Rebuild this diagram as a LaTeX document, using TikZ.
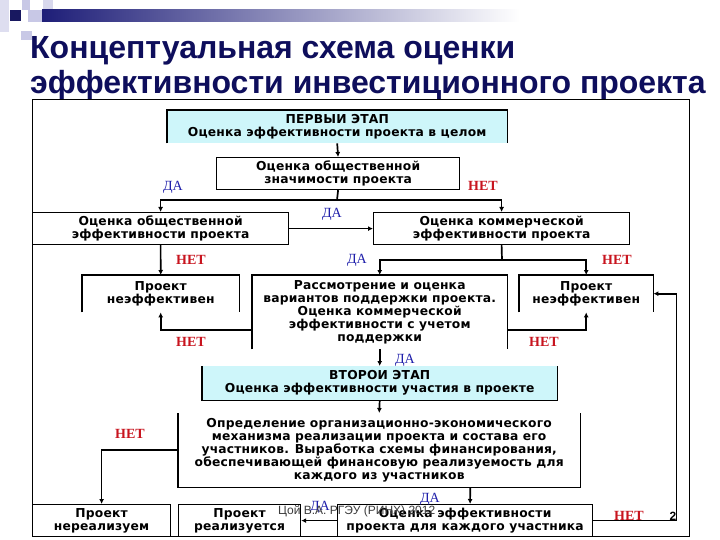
\documentclass[tikz,border=0pt]{standalone}
\usepackage{fontspec}
\setmainfont{Liberation Sans}
\newfontfamily\boxfont[LetterSpace=1.5]{DejaVu Sans}
\newfontfamily\lblfont{Liberation Serif}
\usetikzlibrary{arrows.meta}
\definecolor{navy}{RGB}{14,14,92}
\definecolor{barnavy}{RGB}{30,30,120}
\definecolor{lav}{RGB}{200,200,230}
\definecolor{lcyan}{RGB}{206,246,250}
\definecolor{dablue}{RGB}{30,30,170}
\definecolor{netred}{RGB}{200,20,30}
\definecolor{foot}{RGB}{60,60,60}
\begin{document}
\begin{tikzpicture}[x=1pt,y=-1pt,
  bx/.style={font=\boxfont\bfseries\fontsize{12.3}{13}\selectfont, align=center, inner sep=0pt, anchor=north west},
  bord/.style={line width=1.2pt, black},
  conn/.style={line width=1.7pt, black},
  arr/.style={conn, -{Latex[length=5pt,width=5pt]}},
  da/.style={font=\lblfont\fontsize{14}{14}\selectfont, text=dablue, inner sep=0pt},
  net/.style={font=\lblfont\bfseries\fontsize{14}{14}\selectfont, text=netred, inner sep=0pt},
  ttl/.style={font=\bfseries\fontsize{32}{36}\selectfont, text=navy, inner sep=0pt, anchor=base west}
]
\useasboundingbox (0,0) rectangle (720,540);
\fill[white] (0,0) rectangle (720,540);
% decoration
\fill[lav!60] (0,0) rectangle (9,32);
\fill[lav] (22,0) rectangle (30,10);
\fill[lav!70] (43,0) rectangle (53,10);
\fill[lav] (28,10) rectangle (42,22);
\fill[lav] (21,31) rectangle (32,40);
\shade[left color=barnavy, right color=white] (42,10) rectangle (520,22);
\fill[barnavy!80!black] (10,10) rectangle (21,21);
% title
\node[ttl] (t1) at (30,59) {Концептуальная схема оценки};
\node[ttl] (t2) at (30,94) {эффективности инвестиционного проекта};
% frame
\draw[line width=1pt] (32,100) rectangle (689,536);
% boxes
\node[bx, fill=lcyan, minimum width=340pt, minimum height=33pt] (b1) at (167,110) {ПЕРВЫИ ЭТАП\\Оценка эффективности проекта в целом};
\draw[bord] (b1.south west) |- (b1.north east) -- (b1.south east);
\node[bx, draw, bord, minimum width=243pt, minimum height=32pt] (b2) at (216,157) {Оценка общественной\\значимости проекта};
\node[bx, draw, bord, minimum width=256pt, minimum height=32pt] (b3) at (32,212) {Оценка общественной\\эффективности проекта};
\node[bx, draw, bord, minimum width=256pt, minimum height=32pt] (b4) at (373,212) {Оценка коммерческой\\эффективности проекта};
\node[bx, minimum width=157pt, minimum height=37pt] (b5) at (82,275) {Проект\\неэффективен};
\draw[bord] (b5.south west) |- (b5.north east) -- (b5.south east);
\node[bx, minimum width=255pt, minimum height=74pt] (b6) at (252,275) {Рассмотрение и оценка\\вариантов поддержки проекта.\\Оценка коммерческой\\эффективности с учетом\\поддержки};
\draw[bord] (b6.south west) |- (b6.north east) -- (b6.south east);
\node[bx, minimum width=134pt, minimum height=37pt] (b7) at (519,275) {Проект\\неэффективен};
\draw[bord] (b7.south west) |- (b7.north east) -- (b7.south east);
\node[bx, fill=lcyan, minimum width=355pt, minimum height=34pt] (b8) at (202,366) {ВТОРОИ ЭТАП\\Оценка эффективности участия в проекте};
\draw[bord] (b8.north west) |- (b8.south east) -- (b8.north east);
\node[bx, minimum width=402pt, minimum height=74pt] (b9) at (178,413) {Определение организационно-экономического\\механизма реализации проекта и состава его\\участников. Выработка схемы финансирования,\\обеспечивающей финансовую реализуемость для\\каждого из участников};
\draw[bord] (b9.north west) |- (b9.south east) -- (b9.north east);
\node[bx, draw, bord, minimum width=138pt, minimum height=32pt] (b10) at (32,504) {Проект\\нереализуем};
\node[bx, draw, bord, minimum width=122pt, minimum height=32pt] (b11) at (178,504) {Проект\\реализуется};
\node[bx, draw, bord, minimum width=255pt, minimum height=32pt] (b12) at (337,504) {Оценка эффективности\\проекта для каждого участника};
% connectors
\coordinate (j1) at (337,200);
\coordinate (j2) at (502,260);
\draw[arr] (b1.south) -- (b2.north);
\draw[conn] (b2.south) -- (j1);
\draw[arr] (j1) -| (b3.north);
\draw[arr] (j1) -| (b4.north);
\draw[arr] (b3.east) -- (b4.west);
\draw[arr] (b3.south) -- (b5.north);
\draw[conn] (b4.south) -- (j2);
\draw[arr] (j2) -| (b6.north);
\draw[arr] (j2) -| (b7.north);
\draw[arr] ([yshift=-18pt]b6.west) -| (b5.south);
\draw[arr] ([yshift=-18pt]b6.east) -| (b7.south);
\draw[arr] (b6.south) -- (b8.north);
\draw[arr] (b8.south) -- (b9.north);
\draw[arr] (b9.west) -| (b10.north);
\draw[arr] ([xshift=91pt]b9.south) -- ([xshift=5pt]b12.north);
\draw[arr] (b12.west) -- (b11.east);
\draw[arr] (b12.east) -| ([xshift=23pt]b7.east) -- (b7.east);
% labels
\node[da] (l1) at (173,187) {ДА};
\node[net] (l2) at (483,186) {НЕТ};
\node[da] (l3) at (332,214) {ДА};
\node[net] (l4) at (191,260) {НЕТ};
\node[da] (l5) at (357,260) {ДА};
\node[net] (l6) at (617,260) {НЕТ};
\node[net] (l7) at (191,342) {НЕТ};
\node[net] (l8) at (544,342) {НЕТ};
\node[da] (l9) at (405,360) {ДА};
\node[net] (l10) at (130,434) {НЕТ};
\node[da] (l11) at (430,499) {ДА};
\node[da] (l12) at (320,507) {ДА};
\node[net] (l13) at (629,516) {НЕТ};
\node[font=\bfseries\fontsize{12}{12}\selectfont, inner sep=0pt] (pg) at (673,516) {2};
\node[font=\fontsize{12}{12}\selectfont, text=foot, inner sep=0pt, anchor=base west] (ft) at (278,514) {Цой В.А. РГЭУ (РИНХ) 2012};
\end{tikzpicture}
\end{document}
